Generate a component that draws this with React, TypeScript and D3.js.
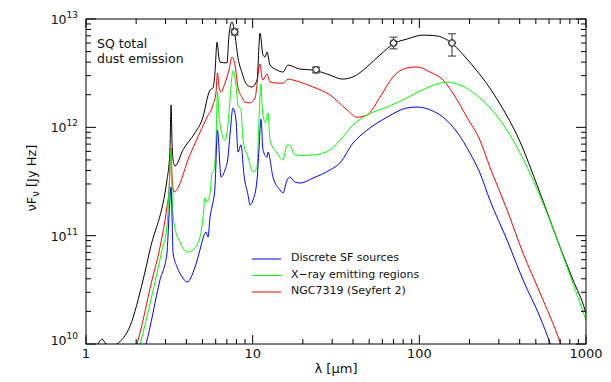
import React from 'react';
import * as d3 from 'd3';

// ---------- data (wavelength in micron, nuF_nu in Jy Hz) ----------
const totalSED: [number, number][] = [
  [1.1, 8e9], [1.18, 1.0e10], [1.25, 1.11e10], [1.32, 1.0e10], [1.4, 9.8e9], [1.5, 9.8e9],
  [1.53, 1.0e10], [1.84, 1.47e10], [2.2, 3.9e10], [2.42, 7.4e10], [3.06, 3.27e11],
  [3.15, 4.6e11], [3.19, 6.2e11], [3.24, 1.61e12], [3.28, 7.6e11], [3.33, 5.0e11],
  [3.42, 4.4e11], [3.82, 6.2e11], [4.51, 8.9e11], [4.97, 1.17e12], [5.55, 2.21e12],
  [5.78, 2.31e12], [5.94, 3.18e12], [6.11, 6.1e12], [6.28, 4.37e12], [6.37, 4.0e12],
  [7.01, 3.93e12], [7.21, 7.1e12], [7.52, 9.4e12], [7.83, 7.1e12], [8.17, 4.37e12],
  [8.63, 3.18e12], [9.25, 2.46e12], [9.91, 2.36e12], [10.62, 2.73e12], [11.07, 7.4e12],
  [11.53, 4.66e12], [11.86, 4.46e12], [12.19, 4.95e12], [12.71, 3.76e12], [14.0, 3.38e12],
  [15.2, 3.24e12], [16.3, 3.76e12], [17.2, 3.68e12], [19.2, 3.45e12], [23.0, 3.38e12],
  [29.1, 3.04e12], [34.4, 2.79e12], [40.0, 2.92e12], [48.5, 3.61e12], [58.1, 4.66e12],
  [71.4, 6.0e12], [84.3, 6.53e12], [105, 7.1e12], [128, 6.97e12], [147, 6.4e12],
  [168, 5.4e12], [193, 4.28e12], [222, 3.31e12], [255, 2.51e12], [292, 1.83e12],
  [336, 1.27e12], [385, 8.5e11], [530, 2.48e11], [698, 7.85e10], [836, 3.9e10],
  [986, 2.06e10], [1000, 1.91e10],
];

const seyfertSED: [number, number][] = [
  [1.95, 8.5e9], [2.02, 1.0e10], [2.49, 3.9e10], [2.78, 7.85e10], [3.06, 1.84e11],
  [3.15, 2.64e11], [3.24, 6.45e11], [3.28, 3.63e11], [3.37, 2.53e11], [4.21, 5.6e11],
  [5.32, 1.24e12], [5.78, 1.61e12], [6.03, 2.12e12], [6.15, 3.18e12], [6.28, 2.36e12],
  [6.46, 2.12e12], [6.82, 2.56e12], [7.21, 3.38e12], [7.52, 4.46e12], [7.83, 3.76e12],
  [8.17, 2.31e12], [8.63, 1.9e12], [8.99, 1.71e12], [9.64, 1.68e12], [10.33, 1.87e12],
  [11.07, 3.85e12], [11.38, 2.85e12], [11.53, 2.73e12], [12.19, 3.1e12], [12.71, 2.62e12],
  [14.0, 2.56e12], [15.2, 2.56e12], [16.3, 2.79e12], [17.5, 2.73e12], [19.2, 2.62e12],
  [23.0, 2.36e12], [29.1, 1.99e12], [36.8, 1.45e12], [42.3, 1.24e12], [48.5, 1.3e12],
  [58.1, 1.9e12], [69.5, 2.92e12], [84.3, 3.53e12], [96.8, 3.61e12], [116, 3.24e12],
  [139, 2.73e12], [159, 2.07e12], [193, 1.24e12], [231, 7.6e11], [265, 4.3e11],
  [336, 1.73e11], [419, 6.9e10], [530, 2.96e10], [698, 1.04e10], [760, 7e9],
];

const xraySED: [number, number][] = [
  [2.05, 8.5e9], [2.11, 1.0e10], [2.86, 7.4e10], [3.06, 1.2e11], [3.15, 2.64e11],
  [3.24, 6.2e11], [3.28, 2.64e11], [3.37, 1.31e11], [3.66, 8.75e10], [4.04, 7.06e10],
  [4.39, 7.4e10], [4.83, 9.7e10], [5.04, 1.49e11], [5.18, 2.23e11], [5.32, 2.05e11],
  [5.55, 2.48e11], [5.7, 3.79e11], [5.86, 4.04e11], [6.03, 7.6e11], [6.15, 2.12e12],
  [6.28, 1.3e12], [6.46, 9.4e11], [6.82, 7.6e11], [7.11, 1.05e12], [7.31, 1.79e12],
  [7.62, 3.31e12], [7.94, 2.46e12], [8.17, 1.6e12], [8.51, 1.45e12], [8.75, 7.6e11],
  [9.38, 5.3e11], [10.05, 3.87e11], [10.62, 4.3e11], [10.91, 1.17e12], [11.22, 2.51e12],
  [11.38, 1.61e12], [11.53, 1.3e12], [11.9, 1.1e12], [12.36, 1.36e12], [12.71, 7.6e11],
  [14.0, 5.8e11], [15.2, 5.0e11], [16.1, 6.87e11], [16.7, 6.87e11], [17.9, 5.56e11],
  [19.2, 5.5e11], [23.0, 5.56e11], [29.1, 6.18e11], [33.4, 7.6e11], [40.0, 1.05e12],
  [48.5, 1.3e12], [64.0, 1.54e12], [84.3, 1.87e12], [111, 2.31e12], [147, 2.62e12],
  [175, 2.46e12], [238, 1.79e12], [336, 9.4e11], [443, 4.3e11], [583, 1.62e11],
  [769, 5.14e10], [920, 2.39e10], [1000, 1.67e10],
];

const sfSED: [number, number][] = [
  [2.22, 8.5e9], [2.29, 1.0e10], [2.78, 3.9e10], [3.06, 6.9e10], [3.15, 1.55e11],
  [3.24, 2.81e11], [3.28, 1.55e11], [3.33, 6.9e10], [3.52, 5.14e10], [3.82, 4.06e10],
  [4.04, 3.73e10], [4.51, 5.14e10], [4.83, 7.4e10], [5.11, 1.01e11], [5.25, 1.08e11],
  [5.4, 9.7e10], [5.55, 1.49e11], [5.7, 1.84e11], [5.94, 2.81e11], [6.15, 9.4e11],
  [6.46, 3.48e11], [6.82, 4.04e11], [7.11, 5.3e11], [7.31, 8.5e11], [7.62, 1.51e12],
  [7.94, 1.17e12], [8.17, 5.9e11], [8.51, 6.9e11], [8.87, 3.63e11], [9.38, 2.37e11],
  [9.64, 1.92e11], [10.05, 2.13e11], [10.62, 3.27e11], [10.91, 6.2e11], [11.22, 1.19e12],
  [11.53, 6.2e11], [12.19, 5.3e11], [12.36, 5.9e11], [13.24, 3.48e11], [14.6, 2.64e11],
  [15.2, 2.48e11], [16.1, 3.27e11], [16.7, 3.48e11], [17.9, 3.13e11], [19.2, 3.06e11],
  [23.0, 3.4e11], [29.1, 4.04e11], [33.4, 4.69e11], [40.0, 7.16e11], [48.5, 9.4e11],
  [64.0, 1.24e12], [84.3, 1.51e12], [96.8, 1.54e12], [116, 1.45e12], [139, 1.24e12],
  [168, 9.06e11], [201, 5.8e11], [231, 3.79e11], [265, 2.13e11], [336, 9.1e10],
  [419, 3.9e10], [530, 1.77e10], [608, 1.02e10], [650, 7.5e9],
];

const photLambda = [7.8, 24, 70, 157];
const photValue = [7.6e12, 3.4e12, 6.0e12, 6.0e12];
const photErrLow = [7.1e12, 3.18e12, 5.3e12, 4.55e12];
const photErrHigh = [8.1e12, 3.6e12, 6.8e12, 7.3e12];

const xTickValues = [1, 10, 100, 1000];
const xTickLabels = ['1', '10', '100', '1000'];
const yTickValues = [1e10, 1e11, 1e12, 1e13];
const yTickExponents = ['10', '11', '12', '13'];

const legendLabels = ['Discrete SF sources', 'X\u2212ray emitting regions', 'NGC7319 (Seyfert 2)'];
const legendColors = ['#0000ff', '#00ff00', '#ff0000'];

const FONT = 'DejaVu Sans, sans-serif';

export default function App() {
  const L = 86, R = 586, T = 19, B = 344;
  const x = d3.scaleLog().domain([1, 1000]).range([L, R]);
  const y = d3.scaleLog().domain([1e10, 1e13]).range([B, T]);
  const line = d3
    .line<[number, number]>()
    .x((d) => x(d[0]))
    .y((d) => y(d[1]))
    .curve(d3.curveMonotoneX);

  const xMinor: number[] = [];
  [1, 10, 100].forEach((dec) => {
    for (let k = 2; k <= 9; k++) xMinor.push(k * dec);
  });
  const yMinor: number[] = [];
  [1e10, 1e11, 1e12].forEach((dec) => {
    for (let k = 2; k <= 9; k++) yMinor.push(k * dec);
  });

  const series = [
    { d: totalSED, c: '#000000' },
    { d: seyfertSED, c: '#ff0000' },
    { d: xraySED, c: '#00ff00' },
    { d: sfSED, c: '#0000ff' },
  ];

  return (
    <svg
      width={611}
      height={382}
      style={{ position: 'absolute', left: 0, top: 0, background: '#fff' }}
      fontFamily={FONT}
    >
      <defs>
        <clipPath id="plotclip">
          <rect x={L} y={T} width={R - L} height={B - T} />
        </clipPath>
      </defs>
      <rect x={0} y={0} width={611} height={382} fill="#fff" />

      <g clipPath="url(#plotclip)">
        {series.map((s, i) => (
          <path key={i} d={line(s.d) || ''} fill="none" stroke={s.c} strokeWidth={1} />
        ))}
      </g>

      {/* photometry */}
      {photLambda.map((l, i) => {
        const px = x(l);
        const py = y(photValue[i]);
        const y1 = y(photErrHigh[i]);
        const y2 = y(photErrLow[i]);
        return (
          <g key={i} stroke="#333" strokeWidth={1} fill="none">
            <line x1={px} x2={px} y1={y1} y2={y2} />
            <line x1={px - 4} x2={px + 4} y1={y1} y2={y1} />
            <line x1={px - 4} x2={px + 4} y1={y2} y2={y2} />
            <circle cx={px} cy={py} r={3.5} fill="#fff" />
            <path d={`M${px - 3.5},${py} L${px},${py - 3.5} L${px + 3.5},${py} L${px},${py + 3.5} Z`} />
          </g>
        );
      })}

      {/* frame */}
      <rect x={L} y={T} width={R - L} height={B - T} fill="none" stroke="#000" strokeWidth={1} />

      {/* ticks */}
      <g stroke="#000" strokeWidth={1}>
        {xTickValues.map((v, i) => (
          <g key={'xm' + i}>
            <line x1={x(v)} x2={x(v)} y1={B} y2={B - 9} />
            <line x1={x(v)} x2={x(v)} y1={T} y2={T + 9} />
          </g>
        ))}
        {xMinor.map((v, i) => (
          <g key={'xn' + i}>
            <line x1={x(v)} x2={x(v)} y1={B} y2={B - 5} />
            <line x1={x(v)} x2={x(v)} y1={T} y2={T + 5} />
          </g>
        ))}
        {yTickValues.map((v, i) => (
          <g key={'ym' + i}>
            <line x1={L} x2={L + 10} y1={y(v)} y2={y(v)} />
            <line x1={R} x2={R - 10} y1={y(v)} y2={y(v)} />
          </g>
        ))}
        {yMinor.map((v, i) => (
          <g key={'yn' + i}>
            <line x1={L} x2={L + 5} y1={y(v)} y2={y(v)} />
            <line x1={R} x2={R - 5} y1={y(v)} y2={y(v)} />
          </g>
        ))}
      </g>

      {/* x tick labels */}
      {xTickValues.map((v, i) => (
        <text key={'xl' + i} x={x(v)} y={358} fontSize={13} textAnchor="middle" fill="#111">
          {xTickLabels[i]}
        </text>
      ))}

      {/* y tick labels */}
      {yTickValues.map((v, i) => (
        <text
          key={'yl' + i}
          x={78}
          y={y(v) + (i === 0 ? 1 : 5)}
          fontSize={12.5}
          textAnchor="end"
          fill="#111"
        >
          10
          <tspan fontSize={9} dy={-6}>
            {yTickExponents[i]}
          </tspan>
        </text>
      ))}

      {/* axis titles */}
      <text x={336} y={373} fontSize={13} textAnchor="middle" fill="#111">
        {'\u03bb  [\u03bcm]'}
      </text>
      <text transform="translate(36,178) rotate(-90)" fontSize={13} textAnchor="middle" fill="#111">
        {'\u03bdF'}
        <tspan fontSize={10} dy={3}>
          {'\u03bd'}
        </tspan>
        <tspan dy={-3}>{'  [Jy Hz]'}</tspan>
      </text>

      {/* annotation */}
      <text x={97} y={48} fontSize={12.5} fill="#111">
        SQ total
      </text>
      <text x={97} y={63} fontSize={12.5} fill="#111">
        dust emission
      </text>

      {/* legend */}
      {legendLabels.map((lab, i) => {
        const ly = 259 + i * 16.5;
        return (
          <g key={'lg' + i}>
            <line x1={252} x2={281} y1={ly} y2={ly} stroke={legendColors[i]} strokeWidth={1} />
            <text x={291} y={ly + 2} fontSize={11} fill="#111">
              {lab}
            </text>
          </g>
        );
      })}
    </svg>
  );
}
